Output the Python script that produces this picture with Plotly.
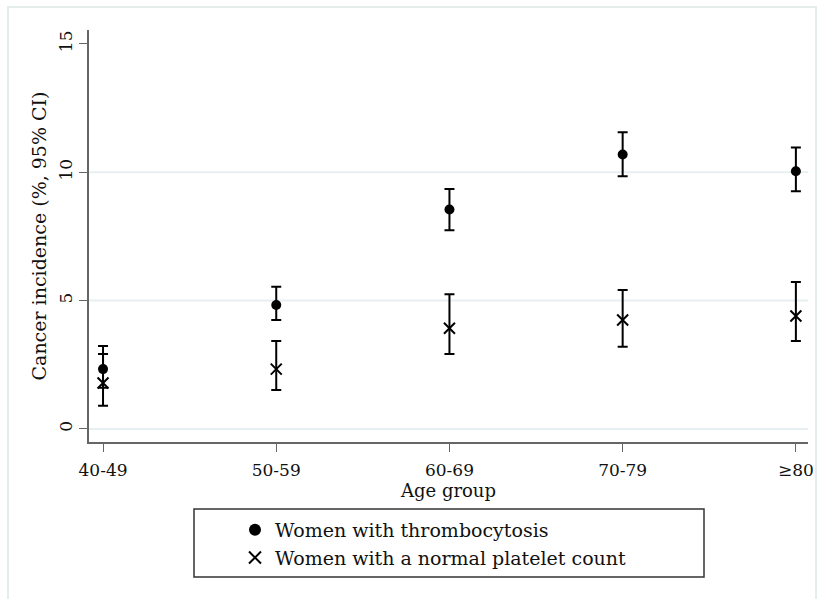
import plotly.graph_objects as go

age_groups = ["40-49", "50-59", "60-69", "70-79", "≥80"]
thromb = [2.33, 4.83, 8.55, 10.69, 10.04]
thromb_lo = [1.6, 4.24, 7.74, 9.84, 9.26]
thromb_hi = [3.23, 5.54, 9.35, 11.56, 10.96]
normal = [1.79, 2.33, 3.92, 4.24, 4.40]
normal_lo = [0.9, 1.52, 2.92, 3.2, 3.42]
normal_hi = [2.92, 3.42, 5.25, 5.41, 5.72]
y_ticks = [0, 5, 10, 15]

FONT = "DejaVu Serif"
xpos = list(range(len(age_groups)))

# layout geometry (pixels)
W, H = 817, 599
ML, MR, MT, MB = 89, 9, 30, 20
PW, PH = W - ML - MR, H - MT - MB
AX_BOTTOM = 442


def px_x(p):
    return (p - ML) / PW


def px_y(p):
    return (H - MB - p) / PH


fig = go.Figure()
fig.add_trace(go.Scatter(
    x=xpos, y=thromb, mode="markers", name="Women with thrombocytosis",
    marker=dict(symbol="circle", size=10, color="black"),
    error_y=dict(type="data", symmetric=False,
                 array=[h - v for h, v in zip(thromb_hi, thromb)],
                 arrayminus=[v - l for v, l in zip(thromb, thromb_lo)],
                 color="black", thickness=2, width=5),
))
fig.add_trace(go.Scatter(
    x=xpos, y=normal, mode="markers", name="Women with a normal platelet count",
    marker=dict(symbol="x-thin", size=11, color="black", line=dict(width=2, color="black")),
    error_y=dict(type="data", symmetric=False,
                 array=[h - v for h, v in zip(normal_hi, normal)],
                 arrayminus=[v - l for v, l in zip(normal, normal_lo)],
                 color="black", thickness=2, width=5),
))

shapes = []
for t in y_ticks[:-1]:
    shapes.append(dict(type="line", xref="paper", yref="y", x0=0, x1=1, y0=t, y1=t,
                       line=dict(color="#e8eff2", width=2), layer="below"))
# outer frame
shapes.append(dict(type="rect", xref="paper", yref="paper", x0=px_x(8), x1=px_x(816),
                   y0=px_y(605), y1=px_y(7), line=dict(color="#e4ecec", width=2)))
# legend box
shapes.append(dict(type="rect", xref="paper", yref="paper", x0=px_x(194), x1=px_x(704),
                   y0=px_y(577), y1=px_y(509), line=dict(color="#333333", width=1.5)))

fig.update_layout(
    width=W, height=H,
    margin=dict(l=ML, r=MR, t=MT, b=MB, autoexpand=False),
    paper_bgcolor="white", plot_bgcolor="white",
    font=dict(family=FONT, size=18, color="#111111"),
    shapes=shapes,
    showlegend=True,
    legend=dict(x=px_x(235), y=px_y(511), xanchor="left", yanchor="top",
                bgcolor="rgba(0,0,0,0)", borderwidth=0,
                font=dict(family=FONT, size=19), tracegroupgap=0,
                itemsizing="constant"),
    xaxis=dict(range=[-0.081, 4.07], tickmode="array", tickvals=xpos, ticktext=age_groups,
               showgrid=False, zeroline=False, showline=True, linecolor="#666666", linewidth=2,
               ticks="outside", ticklen=8, tickcolor="#666666", tickwidth=1,
               tickfont=dict(size=17), tickangle=0, ticklabelstandoff=4,
               title=dict(text="Age group", font=dict(size=18), standoff=0)),
    yaxis=dict(domain=[px_y(AX_BOTTOM), 1], range=[-0.51, 15.54], tickmode="array",
               tickvals=y_ticks,
               showgrid=False, zeroline=False, showline=True, linecolor="#666666", linewidth=2,
               ticks="outside", ticklen=8, tickcolor="#666666", tickwidth=1,
               tickangle=-90, tickfont=dict(size=17),
               title=dict(text="Cancer incidence (%, 95% CI)", font=dict(size=19), standoff=5)),
)

fig.write_html("out.html")
